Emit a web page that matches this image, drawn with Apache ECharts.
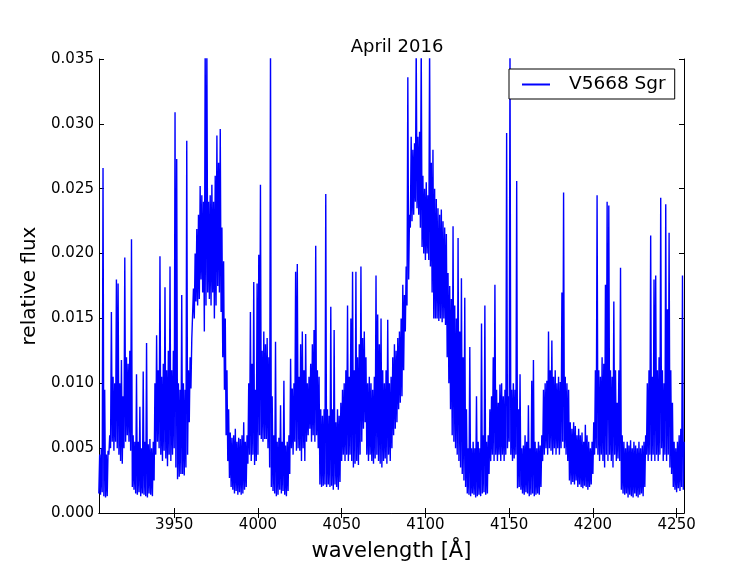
<!DOCTYPE html>
<html>
<head>
<meta charset="utf-8">
<script src="https://cdn.jsdelivr.net/npm/echarts@6/dist/echarts.min.js"></script>
<style>
html,body{margin:0;padding:0;background:#ffffff;}
#chart{width:755px;height:569px;}
</style>
</head>
<body>
<div id="chart"></div>
<script>
// Spectrum: one lower and one upper envelope value per Angstrom,
// starting at 3905 A, values in units of 1e-4 relative flux.
const lambdaStart = 3905;
const lambdaStep = 1;
const lowerE4 = [
  15,14,16,13,12,13,45,50,55,48,
  55,50,45,40,38,50,55,60,55,48,
  20,18,15,14,16,13,15,14,13,12,
  15,14,13,25,45,55,50,45,40,48,
  42,36,45,40,45,50,35,26,28,30,
  30,29,35,45,70,96,134,150,163,160,
  165,180,170,140,160,170,165,160,170,150,
  160,175,170,155,120,95,60,40,27,20,
  18,15,17,14,16,14,15,18,20,38,
  45,40,45,37,40,45,60,57,55,57,
  57,50,35,20,17,15,13,14,18,15,
  17,14,13,17,30,50,45,55,48,50,
  48,40,50,40,55,60,65,55,60,55,
  60,50,22,20,21,22,20,22,20,21,
  18,22,20,18,24,40,45,40,45,40,
  45,40,35,38,40,37,45,55,65,70,
  45,40,45,40,38,42,45,40,38,35,
  40,42,38,45,40,50,60,65,70,80,
  85,90,110,140,160,180,220,225,230,240,
  235,230,220,205,200,195,200,195,190,170,
  150,150,150,148,150,147,150,145,120,100,
  80,60,55,50,45,40,35,30,25,20,
  15,14,13,15,14,12,13,14,13,15,
  16,14,15,30,40,45,40,45,40,45,
  40,45,40,45,50,55,45,40,42,45,
  19,20,18,15,14,16,15,13,14,15,
  13,14,15,14,20,40,45,50,45,50,
  48,45,50,45,50,45,50,55,50,45,
  40,25,22,24,22,25,20,22,20,19,
  21,20,18,20,22,30,45,50,45,40,
  45,40,35,45,40,45,40,35,45,40,
  42,40,18,15,14,15,12,14,13,12,
  15,13,12,14,15,13,20,45,40,45,
  40,45,40,45,40,45,50,40,45,40,
  45,35,30,20,18,16,19,17,20,18
];
const upperE4 = [
  45,50,266,95,45,48,60,155,105,100,
  180,177,100,118,90,197,120,115,125,211,
  60,55,107,55,82,50,109,55,131,53,
  57,50,55,100,137,110,198,105,115,174,
  110,125,190,110,125,309,273,100,95,168,
  100,95,287,110,120,134,173,200,219,230,
  252,245,240,360,360,240,245,253,240,260,
  291,270,296,220,194,150,110,80,62,58,
  60,65,55,58,57,60,70,55,60,100,
  155,115,178,95,177,199,253,125,140,130,
  135,120,360,90,60,132,55,58,83,55,
  102,52,55,60,119,96,100,186,192,105,
  130,140,110,138,100,105,115,130,141,206,
  110,105,80,75,80,246,80,75,159,80,
  141,70,80,75,85,95,100,110,160,105,
  150,186,110,186,120,130,190,135,140,120,
  100,105,100,95,105,183,153,130,150,110,
  100,110,149,100,105,120,130,125,135,140,
  150,176,168,190,336,230,290,280,285,360,
  290,294,360,260,250,255,245,360,270,280,
  250,242,235,230,234,225,220,215,185,175,
  165,221,160,150,212,140,181,120,166,80,
  50,128,50,55,50,90,55,50,146,60,
  160,55,60,80,90,120,176,95,85,99,
  100,90,95,293,90,360,95,100,95,256,
  80,107,50,52,60,55,83,50,102,118,
  55,50,55,52,60,95,100,102,140,110,
  133,105,110,100,105,101,170,247,105,100,
  95,70,65,70,67,60,65,60,62,55,
  68,60,55,50,55,70,110,245,110,105,
  120,115,176,240,237,110,105,163,110,85,
  110,189,60,55,50,55,52,56,50,55,
  52,50,55,50,52,55,60,100,110,214,
  105,180,183,110,120,243,110,100,238,157,
  216,110,85,55,50,55,60,65,183,55
];
const xTicks = [3950, 4000, 4050, 4100, 4150, 4200, 4250];
const seriesName = 'V5668 Sgr';
const titleText = 'April 2016';
const xName = 'wavelength [Å]';
const yName = 'relative flux';

const points = [];
for (let i = 0; i < lowerE4.length; i++) {
  const lam = lambdaStart + i * lambdaStep;
  points.push([lam, lowerE4[i] / 1e4]);
  points.push([lam + lambdaStep / 2, upperE4[i] / 1e4]);
}

const FONT = 'DejaVu Sans';
const xMin = 3905.1, xMax = 4254.4;
const chart = echarts.init(document.getElementById('chart'), null, {renderer: 'canvas'});
const axisLineStyle = {color: '#000', width: 1};
const tickStyle = {show: true, inside: true, length: 5, lineStyle: {color: '#000', width: 1}};

chart.setOption({
  animation: false,
  backgroundColor: '#ffffff',
  title: {
    text: titleText,
    left: 392, top: 33,
    textAlign: 'center',
    textStyle: {fontFamily: FONT, fontSize: 18, fontWeight: 'normal', color: '#000'}
  },
  grid: {left: 99, right: 71, top: 59, bottom: 56, containLabel: false},
  legend: {
    data: [{name: seriesName}],
    left: 509, top: 69,
    orient: 'horizontal',
    backgroundColor: '#fff',
    borderColor: '#000',
    borderWidth: 1,
    borderRadius: 0,
    padding: [6, 9, 5, 13],
    itemWidth: 28, itemHeight: 2,
    icon: 'rect',
    textStyle: {fontFamily: FONT, fontSize: 18.5, color: '#000', padding: [0, 0, 0, 14]}
  },
  xAxis: [{
    type: 'value', min: xMin, max: xMax, position: 'bottom',
    name: xName, nameLocation: 'middle', nameGap: 28,
    nameTextStyle: {fontFamily: FONT, fontSize: 21, color: '#000'},
    axisLine: {show: true, lineStyle: axisLineStyle},
    axisTick: Object.assign({customValues: xTicks}, tickStyle),
    axisLabel: {customValues: xTicks, fontFamily: FONT, fontSize: 15, color: '#000', margin: 5,
      formatter: v => String(Math.round(v))},
    splitLine: {show: false}
  }, {
    type: 'value', min: xMin, max: xMax, position: 'top',
    axisLine: {show: true, lineStyle: axisLineStyle},
    axisTick: Object.assign({customValues: xTicks}, tickStyle),
    axisLabel: {show: false},
    splitLine: {show: false}
  }],
  yAxis: [{
    type: 'value', min: 0, max: 0.035, interval: 0.005, position: 'left',
    name: yName, nameLocation: 'middle', nameGap: 50, nameRotate: 90,
    nameTextStyle: {fontFamily: FONT, fontSize: 20, color: '#000'},
    axisLine: {show: true, lineStyle: axisLineStyle},
    axisTick: tickStyle,
    axisLabel: {fontFamily: FONT, fontSize: 15, color: '#000', margin: 5,
      formatter: v => v.toFixed(3)},
    splitLine: {show: false}
  }, {
    type: 'value', min: 0, max: 0.035, interval: 0.005, position: 'right',
    axisLine: {show: true, lineStyle: axisLineStyle},
    axisTick: tickStyle,
    axisLabel: {show: false},
    splitLine: {show: false}
  }],
  series: [{
    name: seriesName,
    type: 'line',
    data: points,
    showSymbol: false,
    symbol: 'none',
    clip: true,
    lineStyle: {color: '#0000ff', width: 1.4},
    itemStyle: {color: '#0000ff'},
    xAxisIndex: 0, yAxisIndex: 0
  }]
});
</script>
</body>
</html>
